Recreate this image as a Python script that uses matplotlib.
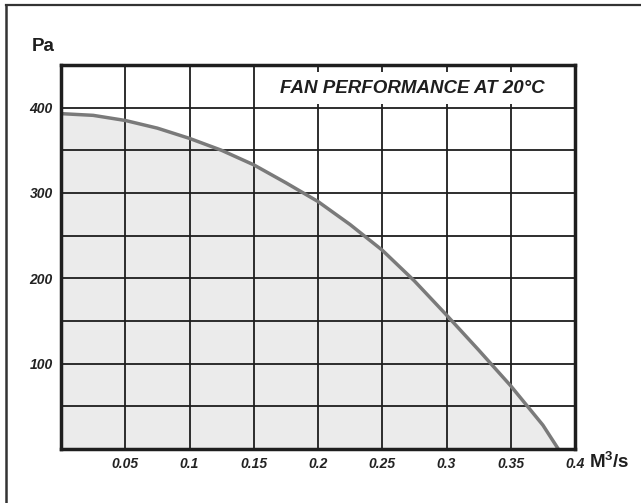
import numpy as np
import matplotlib
matplotlib.use("Agg")
from matplotlib import pyplot as plt
from matplotlib.lines import Line2D

plt.rcParams['font.family'] = ['Liberation Sans', 'DejaVu Sans']
plt.rcParams['mathtext.fontset'] = 'custom'
plt.rcParams['mathtext.rm'] = 'Liberation Sans:bold'
plt.rcParams['mathtext.bf'] = 'Liberation Sans:bold'

# fan curve
flow = [0, 0.025, 0.05, 0.075, 0.1, 0.125, 0.15, 0.175, 0.2, 0.225, 0.25,
        0.275, 0.3, 0.325, 0.35, 0.375, 0.387]
pressure = [393, 391, 385, 376, 364, 350, 333, 312, 290, 263, 233,
            197, 157, 116, 74, 28, 0]

xticks = [0.05, 0.1, 0.15, 0.2, 0.25, 0.3, 0.35, 0.4]
xlabels = ["0.05", "0.1", "0.15", "0.2", "0.25", "0.3", "0.35", "0.4"]
yticks = [50, 100, 150, 200, 250, 300, 350, 400]
ylabels = ["", "100", "", "200", "", "300", "", "400"]

title = "FAN PERFORMANCE AT 20°C"

fig = plt.figure(figsize=(6.41, 5.03), dpi=100)
ax = fig.add_axes([61/641, 1-449/503, (575-61)/641, (449-65)/503])

ax.fill_between(flow, pressure, 0, color="#ebebeb", zorder=0, lw=0)
ax.set_xlim(0, 0.4)
ax.set_ylim(0, 450)
ax.set_xticks(xticks, xlabels)
ax.set_yticks(yticks, ylabels)
ax.grid(True, color="#1e1e1e", lw=1.3, zorder=1)
ax.set_axisbelow(False)
ax.tick_params(length=0, labelsize=10)
ax.tick_params(axis='x', pad=6)
ax.tick_params(axis='y', pad=6)
for lab in ax.get_xticklabels() + ax.get_yticklabels():
    lab.set_fontweight("bold")
    lab.set_fontstyle("italic")
    lab.set_color("#222222")
for s in ax.spines.values():
    s.set_linewidth(2.5)
    s.set_color("#1e1e1e")
    s.set_zorder(5)

ax.text(0.376, 423, title, ha="right", va="center", fontsize=13.5, fontweight="bold",
        fontstyle="italic", color="#1e1e1e", zorder=4,
        bbox=dict(boxstyle="square,pad=0.4", fc="white", ec="none"))

ax.plot(flow, pressure, color="#7a7a7a", lw=2.5, zorder=3, solid_capstyle="butt",
        solid_joinstyle="round")

fig.text(32/641, 1-46/503, "Pa", fontsize=13.5, fontweight="bold", va="center", ha="left", color="#1e1e1e")
fig.text(589/641, 1-462/503, r"$\mathrm{M}^{\mathrm{3}}\mathrm{/s}$", fontsize=13.5, va="center", ha="left", color="#1e1e1e")

# outer frame: top and left edges
fig.add_artist(Line2D([6/641, 1], [1-5/503, 1-5/503], color="#333333", lw=1.6))
fig.add_artist(Line2D([6/641, 6/641], [1-5/503, 0], color="#333333", lw=1.8))

fig.savefig("out.png", dpi=100)
